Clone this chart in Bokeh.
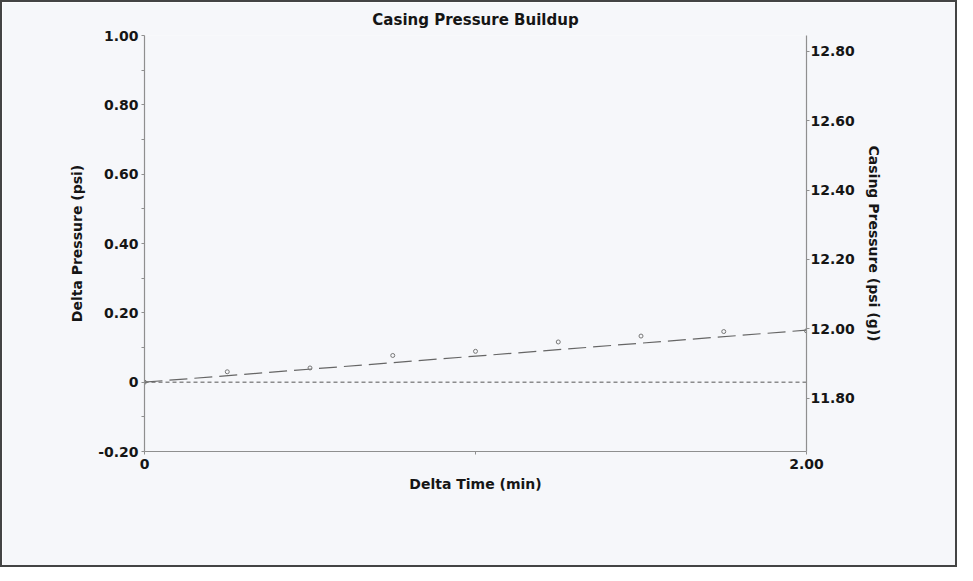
from bokeh.plotting import figure
from bokeh.models import Range1d, LinearAxis, FixedTicker, ColumnDataSource
from bokeh.embed import file_html
from bokeh.resources import INLINE

# ---- data ----
time_min = [0, 0.25, 0.5, 0.75, 1.0, 1.25, 1.5, 1.75, 2.0]
delta_psi = [0, 0.030, 0.041, 0.077, 0.089, 0.116, 0.133, 0.146, 0.148]
trend_time = [0, 2.0]
trend_psi = [0, 0.150]
zero_time = [0, 2.0]
zero_psi = [0, 0]
x_ticks = [0, 2.0]
x_minor = [1.0]
left_ticks = [-0.2, 0, 0.2, 0.4, 0.6, 0.8, 1.0]
left_minor = [-0.1, 0.1, 0.3, 0.5, 0.7, 0.9]
right_ticks = [11.8, 12.0, 12.2, 12.4, 12.6, 12.8]
right_range = (11.646, 12.846)

BG = "#f6f7fa"
FONT = "DejaVu Sans"
AXC = "#8f8f8f"
TXT = "#151515"

p = figure(width=953, height=561, frame_width=662, frame_height=416,
           x_range=Range1d(0, 2.0), y_range=Range1d(-0.2, 1.0),
           output_backend="svg", toolbar_location=None,
           min_border_left=142, min_border_right=149, min_border_top=31,
           min_border_bottom=114, title="Casing Pressure Buildup",
           background_fill_color=BG, border_fill_color=BG)
p.styles = {"border": "2px solid #444444"}
p.outline_line_color = None
p.grid.visible = False

p.title.align = "center"
p.title.text_font = FONT
p.title.text_font_size = "15px"
p.title.text_font_style = "bold"
p.title.text_color = TXT
p.title.standoff = 13

src = ColumnDataSource(dict(t=time_min, d=delta_psi))
p.line(zero_time, zero_psi, line_color="#555555", line_width=1, line_dash="4 3")
p.line(trend_time, trend_psi, line_color="#666666", line_width=1.2, line_dash="18 7")
p.scatter("t", "d", source=src, size=4, marker="circle", fill_color=None,
          line_color="#777777", line_width=1)

def style_axis(ax):
    ax.axis_line_color = AXC
    ax.axis_line_width = 1.2
    ax.major_tick_line_color = AXC
    ax.minor_tick_line_color = AXC
    ax.major_tick_in = 0
    ax.major_tick_out = 3
    ax.minor_tick_in = 0
    ax.minor_tick_out = 3
    ax.major_label_text_font = FONT
    ax.major_label_text_font_style = "bold"
    ax.major_label_text_font_size = "14px"
    ax.major_label_text_color = TXT
    ax.axis_label_text_font = FONT
    ax.axis_label_text_font_style = "bold"
    ax.axis_label_text_font_size = "14px"
    ax.axis_label_text_color = TXT

xa = p.xaxis[0]
xa.ticker = FixedTicker(ticks=x_ticks, minor_ticks=x_minor)
xa.major_label_overrides = {0: "0", 2: "2.00"}
xa.axis_label = "Delta Time (min)"
xa.axis_label_standoff = 4
xa.major_label_standoff = 4
style_axis(xa)

ya = p.yaxis[0]
ya.ticker = FixedTicker(ticks=left_ticks, minor_ticks=left_minor)
ya.major_label_overrides = {t: ("0" if t == 0 else f"{t:.2f}") for t in left_ticks}
ya.axis_label = "Delta Pressure (psi)"
ya.axis_label_standoff = 10
ya.major_label_standoff = 3
style_axis(ya)

p.extra_y_ranges = {"casing": Range1d(*right_range)}
ra = LinearAxis(y_range_name="casing", axis_label="Casing Pressure (psi (g))")
ra.ticker = FixedTicker(ticks=right_ticks, minor_ticks=[])
ra.major_label_overrides = {t: f"{t:.2f}" for t in right_ticks}
ra.axis_label_standoff = 8
ra.major_label_standoff = 1
style_axis(ra)
p.add_layout(ra, "right")

open("out.html", "w").write(file_html(p, INLINE))
